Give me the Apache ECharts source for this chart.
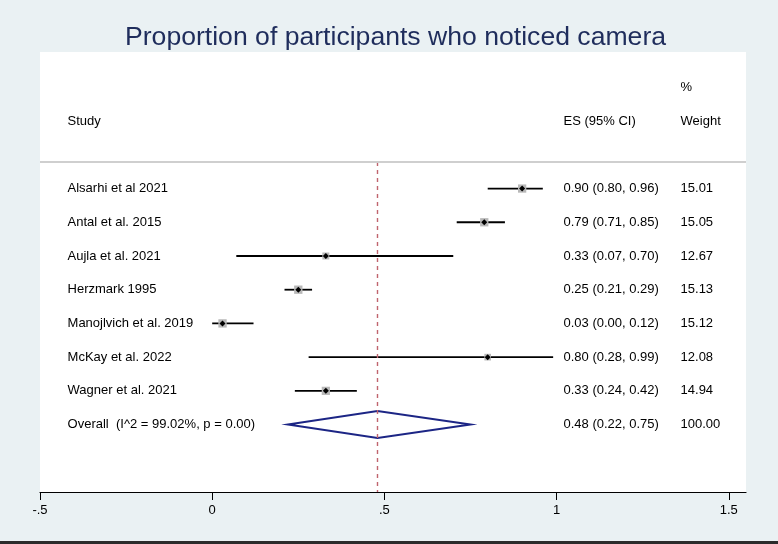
<!DOCTYPE html>
<html>
<head>
<meta charset="utf-8">
<script src="https://cdn.jsdelivr.net/npm/echarts@6/dist/echarts.min.js"></script>
<style>
  html, body { margin: 0; padding: 0; background: #eaf1f3; }
  #main { width: 778px; height: 544px; }
</style>
</head>
<body>
<div id="main"></div>
<script>
// studies, effect sizes, 95% CI and weights
var studies = ['Alsarhi et al 2021', 'Antal et al. 2015', 'Aujla et al. 2021', 'Herzmark 1995',
               'Manojlvich et al. 2019', 'McKay et al. 2022', 'Wagner et al. 2021'];
var es = [0.90, 0.79, 0.33, 0.25, 0.03, 0.80, 0.33];
var ciLow = [0.80, 0.71, 0.07, 0.21, 0.00, 0.28, 0.24];
var ciHigh = [0.96, 0.85, 0.70, 0.29, 0.12, 0.99, 0.42];
var weights = [15.01, 15.05, 12.67, 15.13, 15.12, 12.08, 14.94];

var overallLabel = 'Overall  (I^2 = 99.02%, p = 0.00)';
var overallEs = 0.48, overallLow = 0.22, overallHigh = 0.75, overallWeight = 100.00;

var xTicks = [-0.5, 0, 0.5, 1, 1.5];

// column positions (in x units) for the text columns
var colStudy = -0.42, colEs = 1.02, colWeight = 1.36;
var overallRow = studies.length;

function fmt(v) { return v.toFixed(2); }
function esText(e, l, h) { return fmt(e) + ' (' + fmt(l) + ', ' + fmt(h) + ')'; }

var studyLabels = [], esLabels = [], weightLabels = [];
studies.forEach(function (s, i) {
    studyLabels.push({ name: s, value: [colStudy, i] });
    esLabels.push({ name: esText(es[i], ciLow[i], ciHigh[i]), value: [colEs, i] });
    weightLabels.push({ name: fmt(weights[i]), value: [colWeight, i] });
});
studyLabels.push({ name: overallLabel, value: [colStudy, overallRow] });
esLabels.push({ name: esText(overallEs, overallLow, overallHigh), value: [colEs, overallRow] });
weightLabels.push({ name: fmt(overallWeight), value: [colWeight, overallRow] });
// header
studyLabels.push({ name: 'Study', value: [colStudy, -2] });
esLabels.push({ name: 'ES (95% CI)', value: [colEs, -2] });
weightLabels.push({ name: '%', value: [colWeight, -3] });
weightLabels.push({ name: 'Weight', value: [colWeight, -2] });

var font = '"Liberation Sans", Arial, sans-serif';

function textSeries(data) {
    return {
        type: 'scatter',
        symbolSize: 0,
        data: data,
        silent: true,
        itemStyle: { opacity: 1 },
        label: {
            show: true,
            position: 'right',
            distance: 0,
            formatter: '{b}',
            color: '#000',
            opacity: 1,
            fontSize: 13,
            fontFamily: font
        }
    };
}

var myChart = echarts.init(document.getElementById('main'));
var option = {
    animation: false,
    backgroundColor: '#eaf1f3',
    title: {
        text: 'Proportion of participants who noticed camera',
        left: 120,
        top: 19,
        textStyle: { fontSize: 26.6, fontWeight: 'normal', color: '#1f2d5c', fontFamily: font }
    },
    grid: {
        left: 40, right: 32, top: 52, bottom: 52,
        show: true, backgroundColor: '#ffffff', borderWidth: 0
    },
    xAxis: {
        type: 'value',
        min: -0.5,
        max: 1.55,
        splitLine: { show: false },
        axisLine: { onZero: false, lineStyle: { color: '#000', width: 1.2 } },
        axisTick: { length: 8, customValues: xTicks, lineStyle: { color: '#000' } },
        axisLabel: {
            customValues: xTicks,
            margin: 12,
            color: '#000',
            fontSize: 13,
            fontFamily: font,
            formatter: function (v) {
                return v === 0 ? '0' : String(v).replace('0.', '.');
            }
        }
    },
    yAxis: {
        type: 'value',
        inverse: true,
        min: -4.05,
        max: 9.0,
        show: false
    },
    graphic: [{
        type: 'rect',
        shape: { x: 0, y: 541, width: 778, height: 3 },
        style: { fill: '#2b2b2b' }
    }],
    series: [
        {
            // confidence intervals
            type: 'custom',
            data: studies.map(function (s, i) { return [ciLow[i], ciHigh[i], i]; }),
            encode: { x: [0, 1], y: 2 },
            renderItem: function (params, api) {
                var p1 = api.coord([api.value(0), api.value(2)]);
                var p2 = api.coord([api.value(1), api.value(2)]);
                return {
                    type: 'line',
                    shape: { x1: p1[0], y1: p1[1], x2: p2[0], y2: p2[1] },
                    style: { stroke: '#000', lineWidth: 1.8 }
                };
            },
            markLine: {
                silent: true,
                symbol: 'none',
                label: { show: false },
                data: [
                    [{ coord: [overallEs, -0.79] }, { coord: [overallEs, 9.0] }]
                ],
                lineStyle: { color: '#c0646e', width: 1.4, type: [4, 4] }
            }
        },
        {
            // weight boxes
            type: 'scatter',
            symbol: 'rect',
            data: studies.map(function (s, i) { return [es[i], i, weights[i]]; }),
            symbolSize: function (v) { return v[2] * 0.55; },
            itemStyle: { color: '#b8b8b8', opacity: 1 },
            markLine: {
                silent: true,
                symbol: 'none',
                label: { show: false },
                data: [{ yAxis: -0.79 }],
                lineStyle: { color: '#cfcfcf', width: 2, type: 'solid' }
            }
        },
        {
            // point estimates
            type: 'scatter',
            symbol: 'diamond',
            symbolSize: 6,
            data: studies.map(function (s, i) { return [es[i], i]; }),
            itemStyle: { color: '#000', opacity: 1 }
        },
        {
            // overall diamond
            type: 'custom',
            data: [[overallLow, overallEs, overallHigh, overallRow]],
            encode: { x: [0, 1, 2], y: 3 },
            renderItem: function (params, api) {
                var r = api.value(3);
                var pts = [
                    api.coord([api.value(0), r]),
                    api.coord([api.value(1), r - 0.4]),
                    api.coord([api.value(2), r]),
                    api.coord([api.value(1), r + 0.4])
                ];
                return {
                    type: 'polygon',
                    shape: { points: pts },
                    style: { fill: 'none', stroke: '#1c2585', lineWidth: 2 }
                };
            }
        },
        textSeries(studyLabels),
        textSeries(esLabels),
        textSeries(weightLabels)
    ]
};
option && myChart.setOption(option);
</script>
</body>
</html>
